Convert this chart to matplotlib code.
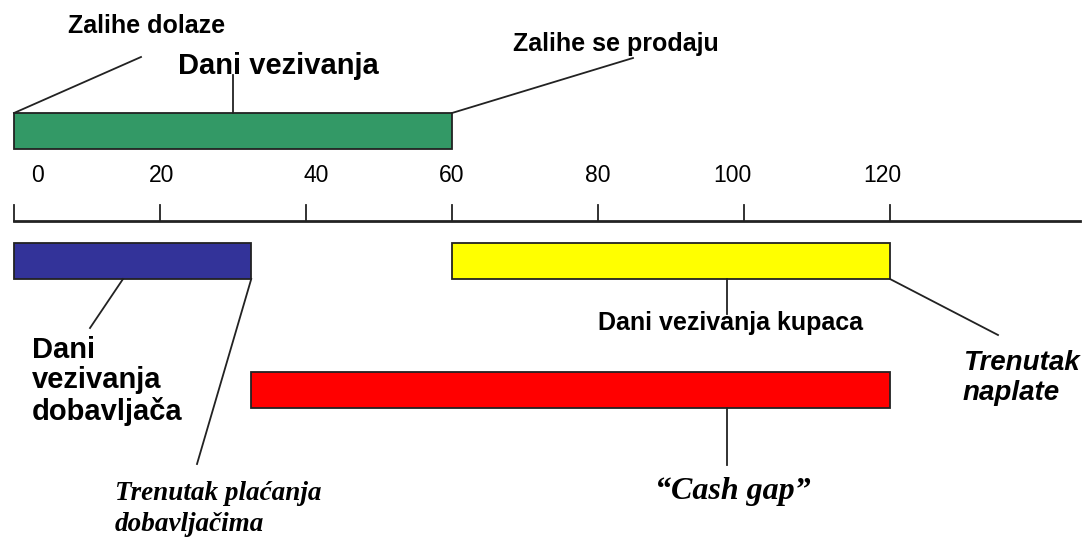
import matplotlib.pyplot as plt

# Days on the time line
tick_values = [0, 20, 40, 60, 80, 100, 120]
tick_labels = ["0", "20", "40", "60", "80", "100", "120"]
label_shift_px = [24, 2, 10, 0, 0, -12, -8]
axis_end = 146

# Bars: start day, end day
bar_start = [0, 0, 60, 32.5]
bar_end = [60, 32.5, 120, 120]
bar_colors = ["#339966", "#333399", "#ffff00", "#ff0000"]
bar_rows = [131, 260.5, 260.5, 390]   # vertical centre (pixels from top)

PX0 = 14.0
PXD = 7.3


def d(px):
    # pixel x -> days
    return (px - PX0) / PXD


fig = plt.figure(figsize=(10.85, 5.42), dpi=100)
ax = fig.add_axes([0, 0, 1, 1])
ax.set_xlim(d(0), d(1085))
ax.set_ylim(542, 0)
ax.axis("off")

sans = "Liberation Sans"
serif = "Liberation Serif"

# bars
for s, e, c, y in zip(bar_start, bar_end, bar_colors, bar_rows):
    ax.barh(y, e - s, left=s, height=36, color=c, edgecolor="#222222", linewidth=1.3)

# time axis
ax.plot([0, axis_end], [221, 221], color="#222222", lw=2)
for t, lab, sh in zip(tick_values, tick_labels, label_shift_px):
    ax.plot([t, t], [205, 221], color="#222222", lw=1.3)
    ax.text(t + sh / PXD, 175, lab, ha="center", va="center", fontsize=16.5,
            family=sans)

lc = "#222222"
# green bar annotations
ax.plot([0, d(141)], [113, 57], color=lc, lw=1.3)
ax.text(d(68), 26, "Zalihe dolaze", ha="left", va="center", fontsize=18,
        fontweight="bold", family=sans)
ax.plot([d(233), d(233)], [113, 75], color=lc, lw=1.3)
ax.text(d(178), 66, "Dani vezivanja", ha="left", va="center", fontsize=21,
        fontweight="bold", family=sans)
ax.plot([60, d(633)], [113, 58], color=lc, lw=1.3)
ax.text(d(513), 44, "Zalihe se prodaju", ha="left", va="center", fontsize=18,
        fontweight="bold", family=sans)

# blue bar annotations
ax.plot([d(123), d(90)], [279, 328], color=lc, lw=1.3)
ax.text(d(32), 381, "Dani\nvezivanja\ndobavljača", ha="left", va="center",
        fontsize=21, fontweight="bold", family=sans, linespacing=1.12)
ax.plot([32.5, d(197)], [279, 464], color=lc, lw=1.3)
ax.text(d(115), 509, "Trenutak plaćanja\ndobavljačima", ha="left", va="center",
        fontsize=19.5, fontweight="bold", style="italic", family=serif,
        linespacing=1.28)

# yellow bar annotations
ax.plot([d(727), d(727)], [279, 314], color=lc, lw=1.3)
ax.text(d(598), 323, "Dani vezivanja kupaca", ha="left", va="center",
        fontsize=18, fontweight="bold", family=sans)
ax.plot([120, d(998)], [279, 335], color=lc, lw=1.3)
ax.text(d(963), 378, "Trenutak\nnaplate", ha="left", va="center",
        fontsize=20, fontweight="bold", style="italic", family=sans,
        linespacing=1.15)

# red bar annotation
ax.plot([d(727), d(727)], [408, 465], color=lc, lw=1.3)
ax.text(d(733), 491, "\u201cCash gap\u201d", ha="center", va="center",
        fontsize=23, fontweight="bold", style="italic", family=serif)

fig.savefig("out.png", dpi=100)
